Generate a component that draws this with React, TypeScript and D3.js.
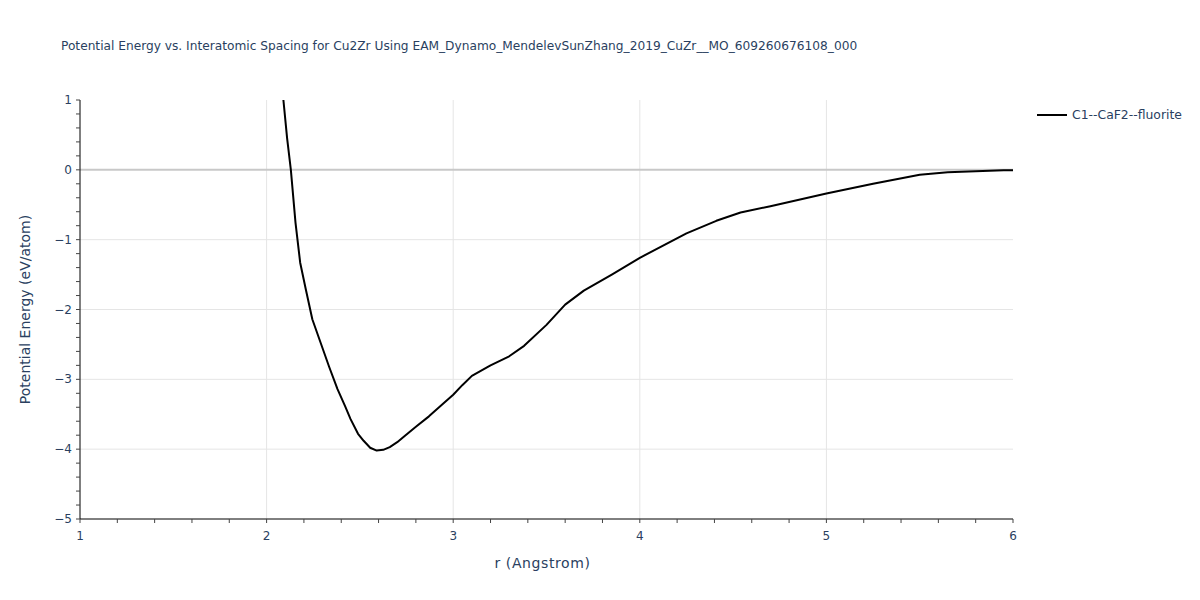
import * as d3 from "d3";

const W = 1200, H = 600;
const M = { left: 80, right: 187, top: 100, bottom: 81 };

const rVals = [2.05, 2.09, 2.11, 2.13, 2.155, 2.18, 2.21, 2.245, 2.29, 2.335, 2.38, 2.42, 2.45, 2.49, 2.52, 2.555, 2.59, 2.625, 2.66, 2.7, 2.74, 2.8, 2.87, 2.95, 3.0, 3.05, 3.1, 3.2, 3.3, 3.38, 3.5, 3.6, 3.7, 3.85, 4.0, 4.25, 4.41, 4.54, 4.7, 5.0, 5.25, 5.5, 5.65, 5.8, 5.95, 6.0];
const energy = [2.0, 1.0, 0.45, 0.0, -0.76, -1.33, -1.71, -2.14, -2.48, -2.82, -3.14, -3.38, -3.57, -3.78, -3.88, -3.98, -4.02, -4.01, -3.97, -3.9, -3.81, -3.68, -3.53, -3.34, -3.22, -3.08, -2.95, -2.8, -2.67, -2.52, -2.22, -1.93, -1.73, -1.5, -1.26, -0.91, -0.73, -0.61, -0.52, -0.34, -0.2, -0.07, -0.035, -0.02, -0.005, -0.005];

const xTicks = [1, 2, 3, 4, 5, 6];
const yTicks = [1, 0, -1, -2, -3, -4, -5];
const seriesName = "C1--CaF2--fluorite";
const title = "Potential Energy vs. Interatomic Spacing for Cu2Zr Using EAM_Dynamo_MendelevSunZhang_2019_CuZr__MO_609260676108_000";

const FONT = "'DejaVu Sans', verdana, sans-serif";
const INK = "#2a3f5f";

export default function App() {
  const x = d3.scaleLinear([1, 6], [M.left, W - M.right]);
  const y = d3.scaleLinear([-5, 1], [H - M.bottom, M.top]);
  const pts = rVals.map((r, i) => [r, energy[i]] as [number, number]);
  const line = d3.line<[number, number]>().x((d) => x(d[0])).y((d) => y(d[1]));
  const xMinor = d3.range(1, 6.001, 0.2);
  const yMinor = d3.range(-5, 1.001, 0.2);
  const x0 = M.left, x1 = W - M.right, y0 = H - M.bottom, y1 = M.top;

  return (
    <svg width={W} height={H} style={{ display: "block", position: "absolute", left: 0, top: 0, background: "#fff" }}>
      <defs>
        <clipPath id="plot">
          <rect x={x0} y={y1} width={x1 - x0} height={y0 - y1} />
        </clipPath>
      </defs>
      <text x={61} y={50} fontFamily={FONT} fontSize={12.2} fill={INK}>{title}</text>

      {/* grid */}
      {xTicks.slice(1, -1).map((t) => (
        <line key={"gx" + t} x1={x(t)} x2={x(t)} y1={y1} y2={y0} stroke="#e5e5e5" strokeWidth={1} />
      ))}
      {yTicks.filter((t) => t !== 0 && t !== 1 && t !== -5).map((t) => (
        <line key={"gy" + t} x1={x0} x2={x1} y1={y(t)} y2={y(t)} stroke="#e5e5e5" strokeWidth={1} />
      ))}
      <line x1={x0} x2={x1} y1={y(0)} y2={y(0)} stroke="#c8c8c8" strokeWidth={2} />

      {/* curve */}
      <path d={line(pts) ?? ""} fill="none" stroke="#000" strokeWidth={2} clipPath="url(#plot)" strokeLinejoin="round" />

      {/* axes */}
      <line x1={x0} x2={x1} y1={y0} y2={y0} stroke="#000" strokeWidth={1} />
      <line x1={x0} x2={x0} y1={y1} y2={y0} stroke="#000" strokeWidth={1} />
      {xMinor.map((t, i) => (
        <line key={"xm" + i} x1={x(t)} x2={x(t)} y1={y0} y2={y0 + 4} stroke="#444" strokeWidth={1} />
      ))}
      {yMinor.map((t, i) => (
        <line key={"ym" + i} x1={x0} x2={x0 - 4} y1={y(t)} y2={y(t)} stroke="#444" strokeWidth={1} />
      ))}
      {xTicks.map((t) => (
        <text key={"xt" + t} x={x(t)} y={y0 + 21} textAnchor="middle" fontFamily={FONT} fontSize={12} fill={INK}>{t}</text>
      ))}
      {yTicks.map((t) => (
        <text key={"yt" + t} x={x0 - 8} y={y(t) + 4} textAnchor="end" fontFamily={FONT} fontSize={12} fill={INK}>
          {t < 0 ? "\u2212" + Math.abs(t) : t}
        </text>
      ))}

      <text x={(x0 + x1) / 2 - 4} y={568} textAnchor="middle" fontFamily={FONT} fontSize={14} letterSpacing={0.6} fill={INK}>r (Angstrom)</text>
      <text transform={`translate(30, ${(y0 + y1) / 2}) rotate(-90)`} textAnchor="middle" fontFamily={FONT} fontSize={14} fill={INK}>
        Potential Energy (eV/atom)
      </text>

      {/* legend */}
      <line x1={1037} x2={1067} y1={115} y2={115} stroke="#000" strokeWidth={2} />
      <text x={1072} y={119} fontFamily={FONT} fontSize={12.4} fill={INK}>{seriesName}</text>
    </svg>
  );
}
